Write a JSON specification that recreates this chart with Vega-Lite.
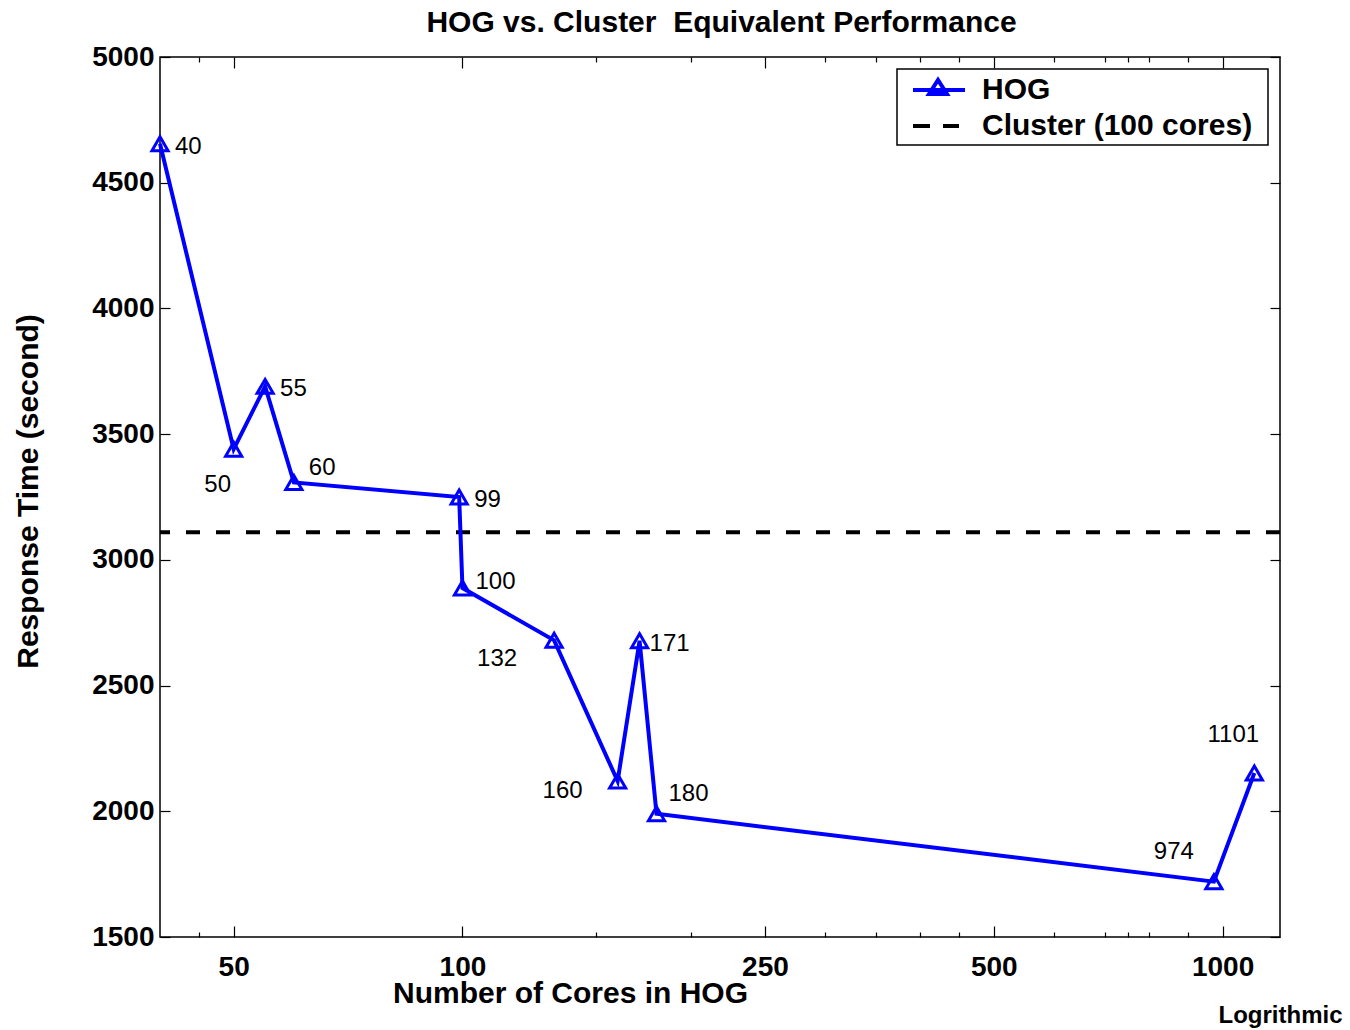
{
  "$schema": "https://vega.github.io/schema/vega-lite/v6.json",
  "width": 1120,
  "height": 880,
  "autosize": "none",
  "padding": {"left": 160, "top": 57, "right": 70, "bottom": 93},
  "background": "white",
  "config": {
    "view": {"stroke": "black", "strokeWidth": 1.5},
    "font": "Liberation Sans",
    "axis": {"grid": false, "domain": false, "tickColor": "black", "tickWidth": 1.2, "labelColor": "black", "titleColor": "black", "labelFont": "Liberation Sans", "titleFont": "Liberation Sans", "labelFontWeight": "bold", "titleFontWeight": "bold", "labelFontSize": 28, "titleFontSize": 30}
  },
  "datasets": {
    "hog": [
      {"cores": 40, "time": 4655, "series": "HOG"},
      {"cores": 50, "time": 3440, "series": "HOG"},
      {"cores": 55, "time": 3690, "series": "HOG"},
      {"cores": 60, "time": 3308, "series": "HOG"},
      {"cores": 99, "time": 3250, "series": "HOG"},
      {"cores": 100, "time": 2888, "series": "HOG"},
      {"cores": 132, "time": 2680, "series": "HOG"},
      {"cores": 160, "time": 2120, "series": "HOG"},
      {"cores": 171, "time": 2678, "series": "HOG"},
      {"cores": 180, "time": 1990, "series": "HOG"},
      {"cores": 974, "time": 1720, "series": "HOG"},
      {"cores": 1101, "time": 2152, "series": "HOG"}
    ],
    "cluster": [
      {"time": 3110, "series": "Cluster (100 cores)"}
    ]
  },
  "layer": [
    {
      "data": {"name": "cluster"},
      "mark": {"type": "rule", "strokeWidth": 4, "strokeDash": [14, 16]},
      "encoding": {
        "y": {"field": "time", "type": "quantitative", "scale": {"domain": [1500, 5000], "nice": false, "zero": false},
          "axis": {"orient": "left", "values": [1500, 2000, 2500, 3000, 3500, 4000, 4500, 5000], "format": "d", "tickSize": -10, "labelPadding": 16, "title": "Response Time (second)", "titleX": -123, "titleY": 434, "titleBaseline": "alphabetic", "titleAngle": -90, "titleAlign": "center"}},
        "color": {"field": "series", "type": "nominal",
          "scale": {"domain": ["HOG", "Cluster (100 cores)"], "range": ["#0000ff", "#000000"]},
          "legend": {"title": null, "orient": "top-right", "offset": 12, "padding": 4, "strokeColor": "black", "fillColor": "white", "labelFont": "Liberation Sans", "labelFontSize": 30, "labelFontWeight": "bold", "labelColor": "black", "labelLimit": 500, "symbolSize": 900, "symbolStrokeWidth": 4, "rowPadding": 4, "labelOffset": 47, "cornerRadius": 0,
            "encode": {"legend": {"update": {"strokeWidth": {"value": 1.5}}}, "symbols": {"update": {"shape": {"signal": "datum.value === 'HOG' ? 'M-0.867,0M22.53,0M-0.333,0L3.133,0M0.733,0.27L1.333,-0.67L1.933,0.27Z' : 'M-0.867,0M22.53,0M-0.333,0L0.8,0M1.667,0L2.733,0'"}, "fill": {"value": "transparent"}, "strokeWidth": {"value": 4}}}}}}
      }
    },
    {
      "data": {"name": "hog"},
      "mark": {"type": "line", "strokeWidth": 4},
      "encoding": {
        "x": {"field": "cores", "type": "quantitative", "scale": {"type": "log", "domain": [40, 1190], "nice": false},
          "axis": {"orient": "bottom", "values": [50, 100, 250, 500, 1000], "format": "d", "tickSize": -11, "labelPadding": 49, "labelBaseline": "alphabetic", "labelFlush": false, "title": "Number of Cores in HOG", "titleX": 410, "titleY": 65, "titleBaseline": "alphabetic", "titleAlign": "center"}},
        "y": {"field": "time", "type": "quantitative", "scale": {"domain": [1500, 5000], "nice": false, "zero": false},
          "axis": {"orient": "right", "values": [1500, 2000, 2500, 3000, 3500, 4000, 4500, 5000], "tickSize": -10, "labels": false, "title": null}},
        "color": {"field": "series", "type": "nominal", "scale": {"domain": ["HOG", "Cluster (100 cores)"], "range": ["#0000ff", "#000000"]}}
      }
    },
    {
      "data": {"name": "hog"},
      "mark": {"type": "point", "shape": "triangle-up", "filled": false, "size": 260, "strokeWidth": 3, "color": "#0000ff", "opacity": 1},
      "encoding": {
        "x": {"field": "cores", "type": "quantitative", "scale": {"type": "log", "domain": [40, 1190], "nice": false},
          "axis": {"orient": "bottom", "values": [45, 150, 200, 300, 350, 400, 450, 600, 700, 750, 800, 900], "tickSize": -5, "labels": false, "title": "Logrithmic", "titleFontSize": 24, "titleX": 1120, "titleY": 85, "titleBaseline": "alphabetic", "titleAlign": "center"}},
        "y": {"field": "time", "type": "quantitative", "scale": {"domain": [1500, 5000], "nice": false, "zero": false}, "axis": null}
      }
    },
    {
      "data": {"name": "hog"},
      "transform": [{"filter": {"field": "cores", "oneOf": [40, 55, 99]}}],
      "mark": {"type": "text", "fontSize": 24, "font": "Liberation Sans", "align": "left", "baseline": "middle", "dx": 15, "dy": 3, "color": "black"},
      "encoding": {
        "x": {"field": "cores", "type": "quantitative", "scale": {"type": "log", "domain": [40, 1190], "nice": false},
          "axis": {"orient": "top", "values": [50, 100, 250, 500, 1000], "tickSize": -11, "labels": false, "title": "HOG vs. Cluster \u00a0Equivalent Performance", "titleX": 561, "titleY": -26, "titleBaseline": "alphabetic", "titleAlign": "center", "titleAngle": 0, "titleFontSize": 30}},
        "y": {"field": "time", "type": "quantitative", "axis": null},
        "text": {"field": "cores", "type": "quantitative", "format": "d"}
      }
    },
    {
      "data": {"name": "hog"},
      "transform": [{"filter": {"field": "cores", "oneOf": [171]}}],
      "mark": {"type": "text", "fontSize": 24, "font": "Liberation Sans", "align": "left", "baseline": "middle", "dx": 10, "dy": 3, "color": "black"},
      "encoding": {
        "x": {"field": "cores", "type": "quantitative", "scale": {"type": "log", "domain": [40, 1190], "nice": false},
          "axis": {"orient": "top", "values": [45, 150, 200, 300, 350, 400, 450, 600, 700, 750, 800, 900], "tickSize": -5, "labels": false, "title": null}},
        "y": {"field": "time", "type": "quantitative", "axis": null},
        "text": {"field": "cores", "type": "quantitative", "format": "d"}
      }
    },
    {
      "data": {"name": "hog"},
      "transform": [{"filter": {"field": "cores", "oneOf": [60]}}],
      "mark": {"type": "text", "fontSize": 24, "font": "Liberation Sans", "align": "left", "baseline": "middle", "dx": 15, "dy": -14, "color": "black"},
      "encoding": {
        "x": {"field": "cores", "type": "quantitative", "axis": null},
        "y": {"field": "time", "type": "quantitative", "axis": null},
        "text": {"field": "cores", "type": "quantitative", "format": "d"}
      }
    },
    {
      "data": {"name": "hog"},
      "transform": [{"filter": {"field": "cores", "oneOf": [100]}}],
      "mark": {"type": "text", "fontSize": 24, "font": "Liberation Sans", "align": "left", "baseline": "middle", "dx": 13, "dy": -6, "color": "black"},
      "encoding": {
        "x": {"field": "cores", "type": "quantitative", "axis": null},
        "y": {"field": "time", "type": "quantitative", "axis": null},
        "text": {"field": "cores", "type": "quantitative", "format": "d"}
      }
    },
    {
      "data": {"name": "hog"},
      "transform": [{"filter": {"field": "cores", "oneOf": [180]}}],
      "mark": {"type": "text", "fontSize": 24, "font": "Liberation Sans", "align": "left", "baseline": "middle", "dx": 12, "dy": -20, "color": "black"},
      "encoding": {
        "x": {"field": "cores", "type": "quantitative", "axis": null},
        "y": {"field": "time", "type": "quantitative", "axis": null},
        "text": {"field": "cores", "type": "quantitative", "format": "d"}
      }
    },
    {
      "data": {"name": "hog"},
      "transform": [{"filter": {"field": "cores", "oneOf": [50]}}],
      "mark": {"type": "text", "fontSize": 24, "font": "Liberation Sans", "align": "center", "baseline": "middle", "dx": -16, "dy": 36, "color": "black"},
      "encoding": {
        "x": {"field": "cores", "type": "quantitative", "axis": null},
        "y": {"field": "time", "type": "quantitative", "axis": null},
        "text": {"field": "cores", "type": "quantitative", "format": "d"}
      }
    },
    {
      "data": {"name": "hog"},
      "transform": [{"filter": {"field": "cores", "oneOf": [132]}}],
      "mark": {"type": "text", "fontSize": 24, "font": "Liberation Sans", "align": "right", "baseline": "middle", "dx": -37, "dy": 19, "color": "black"},
      "encoding": {
        "x": {"field": "cores", "type": "quantitative", "axis": null},
        "y": {"field": "time", "type": "quantitative", "axis": null},
        "text": {"field": "cores", "type": "quantitative", "format": "d"}
      }
    },
    {
      "data": {"name": "hog"},
      "transform": [{"filter": {"field": "cores", "oneOf": [160]}}],
      "mark": {"type": "text", "fontSize": 24, "font": "Liberation Sans", "align": "right", "baseline": "middle", "dx": -35, "dy": 10, "color": "black"},
      "encoding": {
        "x": {"field": "cores", "type": "quantitative", "axis": null},
        "y": {"field": "time", "type": "quantitative", "axis": null},
        "text": {"field": "cores", "type": "quantitative", "format": "d"}
      }
    },
    {
      "data": {"name": "hog"},
      "transform": [{"filter": {"field": "cores", "oneOf": [974]}}],
      "mark": {"type": "text", "fontSize": 24, "font": "Liberation Sans", "align": "right", "baseline": "middle", "dx": -20, "dy": -30, "color": "black"},
      "encoding": {
        "x": {"field": "cores", "type": "quantitative", "axis": null},
        "y": {"field": "time", "type": "quantitative", "axis": null},
        "text": {"field": "cores", "type": "quantitative", "format": "d"}
      }
    },
    {
      "data": {"name": "hog"},
      "transform": [{"filter": {"field": "cores", "oneOf": [1101]}}],
      "mark": {"type": "text", "fontSize": 24, "font": "Liberation Sans", "align": "center", "baseline": "middle", "dx": -21, "dy": -38, "color": "black"},
      "encoding": {
        "x": {"field": "cores", "type": "quantitative", "axis": null},
        "y": {"field": "time", "type": "quantitative", "axis": null},
        "text": {"field": "cores", "type": "quantitative", "format": "d"}
      }
    }
  ],
  "resolve": {"axis": {"x": "independent", "y": "independent"}}
}
